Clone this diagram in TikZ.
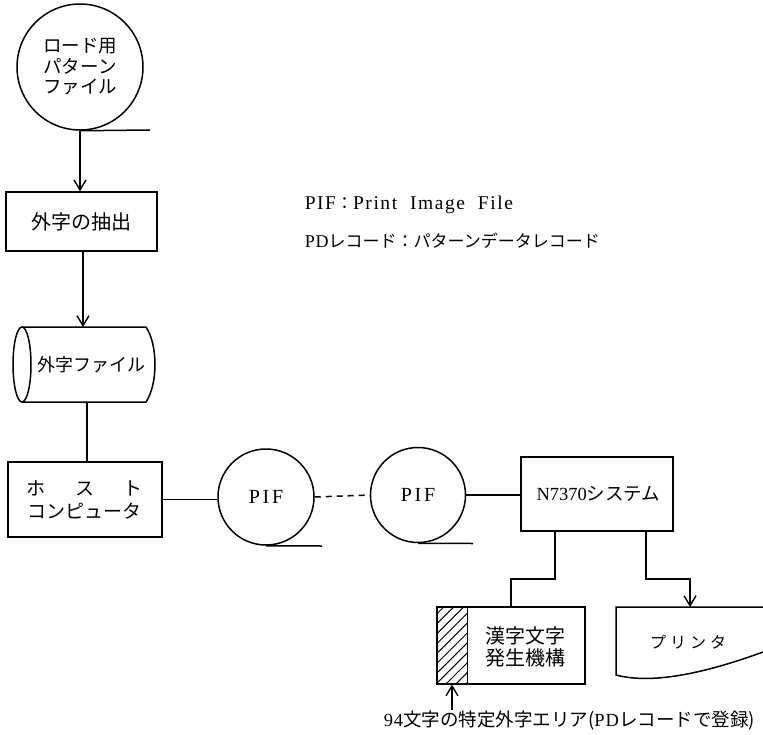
\documentclass[tikz,border=0pt]{standalone}
\usepackage{fontspec}
\setmainfont{Liberation Serif}
\newfontfamily\cjk{Noto Sans CJK JP}
\newfontfamily\lat[LetterSpace=14]{Liberation Serif}
\newfontfamily\latl[LetterSpace=5]{Liberation Serif}
\newfontfamily\latm[LetterSpace=8]{Liberation Serif}
\usetikzlibrary{arrows.meta,patterns.meta}
\begin{document}
\begin{tikzpicture}[x=1pt,y=-1pt,line width=1.5pt,
  arr/.style={-{Straight Barb[length=10pt,width=12pt,line width=1.4pt]}},
  boxn/.style={draw,rectangle,inner sep=0pt,align=center,font=\cjk\fontsize{19}{23}\selectfont},
  tapen/.style={draw,circle,inner sep=0pt,align=center},
  txt/.style={inner sep=0pt,anchor=west}]
\useasboundingbox (0,0) rectangle (763,734);

% top tape
\node[tapen,minimum size=126pt,font=\cjk\fontsize{18.5}{20.5}\selectfont] (load) at (80,67) {ロード用\\パターン\\ファイル};
\coordinate (loadtail) at (150,130);
\draw (load.south) -- (loadtail);

% extraction box
\node[boxn,minimum width=151pt,minimum height=59pt,font=\cjk\fontsize{20}{23}\selectfont] (extract) at (81.5,221.5) {外字の抽出};
\draw[arr] (load.south) -- (extract.north -| load.south);

% cylinder (external character file)
\coordinate (cylL) at (22,364.5);
\draw (cylL) ellipse [x radius=9pt,y radius=37.5pt];
\draw (22,327) -- (146,327) .. controls (158,345) and (158,384) .. (146,402) -- (22,402);
\node[inner sep=0pt,font=\cjk\fontsize{18}{22}\selectfont] (cyl) at (91,364.5) {外字ファイル};
\coordinate (cyltop) at (83,327);
\coordinate (cylbot) at (87,402);
\draw[arr] (extract.south -| cyltop) -- (cyltop);

% host computer
\node[boxn,minimum width=154pt,minimum height=75pt] (host) at (85,499.5)
  {\hbox to 116pt{ホ\hfill ス\hfill ト}\\コンピュータ};
\draw (cylbot) -- (host.north -| cylbot);

% PIF tapes
\node[tapen,minimum size=96pt,font=\lat\fontsize{20}{22}\selectfont] (pif1) at (266,497) {PIF};
\coordinate (pif1tail) at (322,546);
\draw (pif1.south) -- (pif1tail);
\node[tapen,minimum size=95pt,font=\lat\fontsize{20}{22}\selectfont] (pif2) at (418,495) {PIF};
\coordinate (pif2tail) at (473,543.5);
\draw (pif2.south) -- (pif2tail);
\draw (host.east) -- (host.east -| pif1.west);
\draw[dashed,dash pattern=on 6pt off 5pt] (pif1.east) -- (pif2.west);

% N7370 system
\node[draw,rectangle,inner sep=0pt,minimum width=152pt,minimum height=74pt,
  font=\fontsize{18.5}{22}\selectfont] (sys) at (597,494) {\hspace{3pt}N7370{\cjk システム}};
\draw (pif2.east) -- (pif2.east -| sys.west);

% kanji generator with hatched area
\node[rectangle,inner sep=0pt,minimum width=30pt,minimum height=77pt,
  pattern={Lines[angle=45,distance=7pt,line width=1pt]}] (hatch) at (452,645.5) {};
\node[draw,rectangle,inner sep=0pt,minimum width=148pt,minimum height=77pt] (kanji) at (511,645.5) {};
\draw (hatch.north east) -- (hatch.south east);
\node[inner sep=0pt,align=center,font=\cjk\fontsize{20}{21.5}\selectfont] (kanjitxt) at (525,647) {漢字文字\\発生機構};
\draw ([xshift=-42pt]sys.south) -- ++(0,47) -| (kanji.north);

% printer
\coordinate (prn) at (690,607);
\draw (763,607) -- (616,607) -- (616,675) .. controls (650,684) and (700,675) .. (763,652);
\node[inner sep=0pt,font=\cjk\fontsize{16}{20}\selectfont] (prntxt) at (688,642) {プ\hspace{4pt}リ\hspace{4pt}ン\hspace{4pt}タ};
\draw[arr] ([xshift=49pt]sys.south) -- ++(0,47) -| (prn);

% note
\node[txt,font=\cjk\fontsize{18.5}{22}\selectfont] (note) at (383,721)
  {{\latl 94}文字の特定外字エリア({\latl PD}レコードで登録)};
\coordinate (notetop) at (452,710);
\draw[arr] (notetop) -- (hatch.south);

% legend
\node[txt,font=\latm\fontsize{19.5}{22}\selectfont] (leg1) at (304,205) {PIF{\cjk\fontsize{17}{20}\selectfont ：}Print\ \ Image\ \ File};
\node[txt,font=\latl\fontsize{18}{20}\selectfont] (leg2) at (304,241) {PD{\cjk\fontsize{17}{20}\selectfont レコード：パターンデータレコード}};
\end{tikzpicture}
\end{document}
